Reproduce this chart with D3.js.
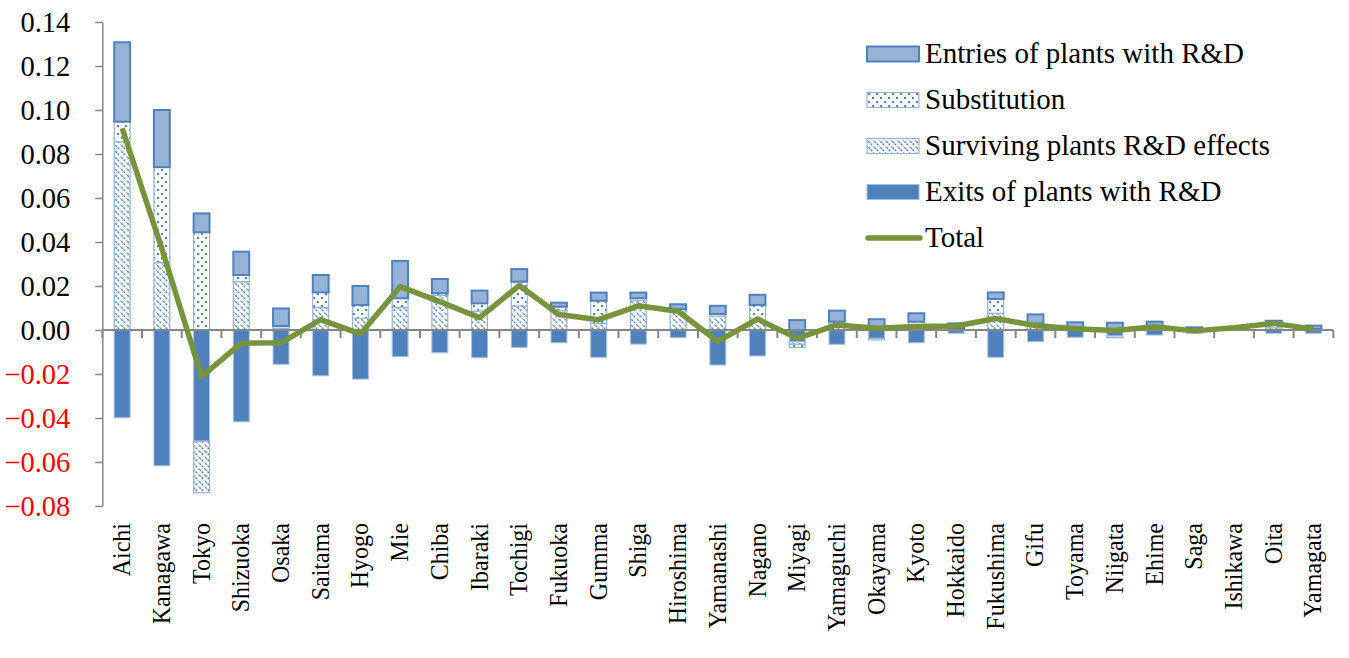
<!DOCTYPE html>
<html>
<head>
<meta charset="utf-8">
<script src="https://cdn.jsdelivr.net/npm/d3@7"></script>
<style>
  html, body { margin: 0; padding: 0; background: #fff; }
  svg { display: block; }
</style>
</head>
<body>
<svg id="chart" width="1349" height="658"></svg>
<script>
// Prefectures, in the order shown on the axis
const prefectures = ["Aichi","Kanagawa","Tokyo","Shizuoka","Osaka","Saitama","Hyogo","Mie","Chiba","Ibaraki",
  "Tochigi","Fukuoka","Gumma","Shiga","Hiroshima","Yamanashi","Nagano","Miyagi","Yamaguchi","Okayama",
  "Kyoto","Hokkaido","Fukushima","Gifu","Toyama","Niigata","Ehime","Saga","Ishikawa","Oita","Yamagata"];

// Decomposition components
const exits = [-0.0399,-0.0617,-0.0505,-0.0417,-0.0156,-0.0208,-0.0223,-0.0121,-0.0103,-0.0126,
  -0.0079,-0.0058,-0.0124,-0.0064,-0.0035,-0.0159,-0.0118,-0.0053,-0.0065,-0.0038,
  -0.0058,-0.0015,-0.0124,-0.0053,-0.0033,-0.0027,-0.0023,-0.0015,-0.0003,-0.0015,-0.0015];
const surviving = [0.0856,0.0306,-0.0235,0.0220,0.0008,0.0103,0.0053,0.0103,0.0157,0.0086,
  0.0109,0.0088,0.0030,0.0134,0.0085,0.0063,0.0044,-0.0012,0.0028,0.0015,
  0.0020,0.0005,0.0076,0.0018,0.0008,0.0005,0.0010,0.0000,0.0002,0.0010,0.0003];
const substitution = [0.0091,0.0434,0.0444,0.0030,0.0010,0.0068,0.0061,0.0041,0.0010,0.0035,
  0.0111,0.0018,0.0103,0.0010,0.0010,0.0010,0.0070,-0.0015,0.0010,-0.0007,
  0.0018,0.0000,0.0065,0.0012,0.0004,-0.0008,0.0005,0.0000,0.0003,0.0012,0.0002];
const entries = [0.0361,0.0260,0.0086,0.0106,0.0080,0.0079,0.0086,0.0170,0.0065,0.0058,
  0.0057,0.0018,0.0037,0.0026,0.0022,0.0037,0.0046,0.0045,0.0050,0.0034,
  0.0038,0.0025,0.0030,0.0041,0.0023,0.0028,0.0023,0.0012,0.0008,0.0020,0.0015];
const total = [0.0917,0.0370,-0.0212,-0.0060,-0.0058,0.0047,-0.0018,0.0197,0.0129,0.0056,
  0.0202,0.0070,0.0047,0.0110,0.0085,-0.0052,0.0050,-0.0038,0.0023,0.0008,
  0.0016,0.0018,0.0052,0.0020,0.0006,-0.0002,0.0015,-0.0004,0.0010,0.0030,0.0004];

const yTicks = [-0.08,-0.06,-0.04,-0.02,0,0.02,0.04,0.06,0.08,0.10,0.12,0.14];

const seriesKeys = ["exits","surviving","substitution","entries"];
const seriesValues = { exits, surviving, substitution, entries };

const FONT = '"Liberation Serif", "Times New Roman", serif';
const svg = d3.select("#chart");

// Fill patterns: dotted (substitution) and dashed diagonal hatch (surviving plants)
const defs = svg.append("defs");
const dots = defs.append("pattern").attr("id","pat-dots")
  .attr("patternUnits","userSpaceOnUse").attr("width",8).attr("height",8);
dots.append("rect").attr("width",8).attr("height",8).attr("fill","#fff");
dots.append("rect").attr("x",1).attr("y",1).attr("width",2).attr("height",2).attr("fill","#4F81BD");
dots.append("rect").attr("x",5).attr("y",5).attr("width",2).attr("height",2).attr("fill","#4F81BD");

const hatch = defs.append("pattern").attr("id","pat-hatch")
  .attr("patternUnits","userSpaceOnUse").attr("width",6).attr("height",6);
hatch.append("rect").attr("width",6).attr("height",6).attr("fill","#fff");
hatch.append("path").attr("d","M-1,-1L7,7M-4,2L2,8M4,-2L8,2")
  .attr("stroke","#4F81BD").attr("stroke-width",1.4).attr("stroke-dasharray","2.2,1");

const styles = {
  entries:      { fill: "#95B3D7", stroke: "#4F81BD", sw: 2 },
  substitution: { fill: "url(#pat-dots)", stroke: "#95B3D7", sw: 1.2 },
  surviving:    { fill: "url(#pat-hatch)", stroke: "#95B3D7", sw: 1.2 },
  exits:        { fill: "#4F81BD", stroke: "#A7BFDE", sw: 1 }
};

// Scales
const x = d3.scaleBand().domain(prefectures).range([102.3, 1333.3]).padding(0);
const y = d3.scaleLinear().domain([-0.08, 0.14]).range([506, 22]);
const barW = x.bandwidth() * 0.4;

// Stacked data (positives stack up, negatives stack down)
const rows = prefectures.map((p, i) => {
  const r = { name: p };
  seriesKeys.forEach(k => r[k] = seriesValues[k][i]);
  return r;
});
const stack = d3.stack().keys(seriesKeys).offset(d3.stackOffsetDiverging);
const layers = stack(rows);

// Bars
const barG = svg.append("g");
layers.forEach(layer => {
  const st = styles[layer.key];
  barG.append("g").selectAll("rect").data(layer).join("rect")
    .attr("x", d => x(d.data.name) + (x.bandwidth() - barW) / 2)
    .attr("y", d => y(Math.max(d[0], d[1])))
    .attr("width", barW)
    .attr("height", d => Math.abs(y(d[0]) - y(d[1])))
    .attr("fill", st.fill)
    .attr("stroke", st.stroke)
    .attr("stroke-width", st.sw)
    .attr("display", d => Math.abs(d[1] - d[0]) < 1e-9 ? "none" : null);
});

// Axes
const axisColor = "#868686";
const yAxis = svg.append("g").attr("transform", "translate(102.3,0)")
  .call(d3.axisLeft(y).tickValues(yTicks).tickFormat(d3.format(".2f")).tickSize(7).tickSizeOuter(0).tickPadding(25));
yAxis.select(".domain").attr("stroke", axisColor).attr("stroke-width", 1.5);
yAxis.selectAll(".tick line").attr("stroke", axisColor).attr("stroke-width", 1.5);
yAxis.selectAll(".tick text")
  .style("font-family", FONT)
  .style("font-size", "28.5px")
  .attr("fill", d => d < 0 ? "#FF0000" : "#000");

// Category axis along zero, ticks between categories
const xAxisG = svg.append("g").attr("transform", `translate(0,${y(0)})`);
xAxisG.append("line").attr("x1", x.range()[0]).attr("x2", x.range()[1])
  .attr("stroke", axisColor).attr("stroke-width", 2);
const boundaries = prefectures.map(p => x(p)).concat([x.range()[1]]);
xAxisG.selectAll("line.tk").data(boundaries).join("line").attr("class","tk")
  .attr("x1", d => d).attr("x2", d => d).attr("y1", 0).attr("y2", 8)
  .attr("stroke", axisColor).attr("stroke-width", 2);

// Category labels, rotated, hanging below the plot
svg.append("g").selectAll("text").data(prefectures).join("text")
  .attr("transform", d => `translate(${x(d) + x.bandwidth() / 2 + 8},523) rotate(-90) scale(1,1.05)`)
  .attr("text-anchor", "end")
  .style("font-family", FONT)
  .style("font-size", "24px")
  .attr("fill", "#000")
  .text(d => d);

// Total line
const line = d3.line()
  .x((d, i) => x(prefectures[i]) + x.bandwidth() / 2)
  .y(d => y(d));
svg.append("path").datum(total)
  .attr("d", line)
  .attr("fill", "none")
  .attr("stroke", "#77933C")
  .attr("stroke-width", 5.5)
  .attr("stroke-linejoin", "round");

// Legend
const legendItems = [
  { key: "entries", label: "Entries of plants with R&D" },
  { key: "substitution", label: "Substitution" },
  { key: "surviving", label: "Surviving plants R&D effects" },
  { key: "exits", label: "Exits of plants with R&D" },
  { key: "total", label: "Total" }
];
const lg = svg.append("g").attr("transform", "translate(867,54)");
legendItems.forEach((it, i) => {
  const g = lg.append("g").attr("transform", `translate(0,${i * 46})`);
  if (it.key === "total") {
    g.append("line").attr("x1", 1).attr("x2", 53).attr("y1", 0).attr("y2", 0)
      .attr("stroke", "#77933C").attr("stroke-width", 5.5).attr("stroke-linecap", "round");
  } else {
    const st = styles[it.key];
    g.append("rect").attr("x", 0).attr("y", -7.5).attr("width", 52).attr("height", 15)
      .attr("fill", st.fill).attr("stroke", st.stroke).attr("stroke-width", st.sw);
  }
  g.append("text").attr("x", 58).attr("y", 9)
    .style("font-family", FONT).style("font-size", "29px").attr("fill", "#000")
    .text(it.label);
});
</script>
</body>
</html>
